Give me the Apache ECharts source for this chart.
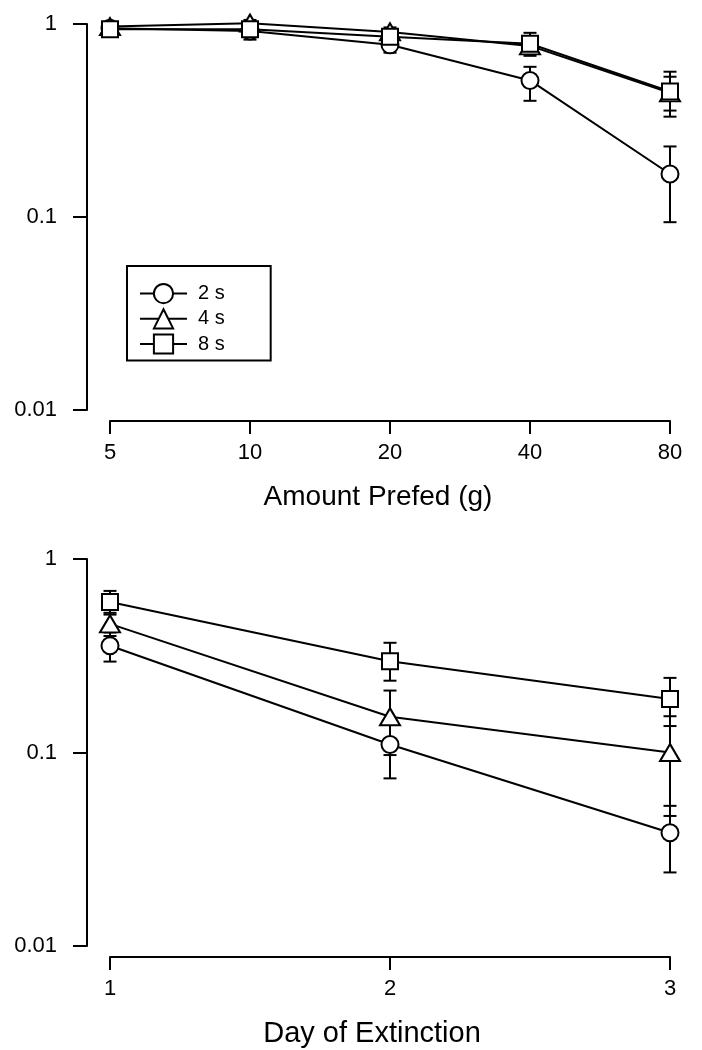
<!DOCTYPE html>
<html>
<head>
<meta charset="utf-8">
<script src="https://cdn.jsdelivr.net/npm/echarts@6/dist/echarts.min.js"></script>
<style>
  html, body { margin: 0; padding: 0; background: #fff; }
  #chart { width: 702px; height: 1050px; }
</style>
</head>
<body>
<div id="chart"></div>
<script>
// ---- Data (top panel: Amount Prefed) ----
const prefedCats = ['5', '10', '20', '40', '80'];
const top2sMean = [0.95, 0.92, 0.78, 0.51, 0.167];
const top2sLow  = [0.92, 0.83, 0.71, 0.40, 0.094];
const top2sHigh = [0.98, 1.01, 0.85, 0.60, 0.232];
const top4sMean = [0.97, 1.01, 0.91, 0.77, 0.44];
const top4sLow  = [0.94, 0.97, 0.86, 0.71, 0.356];
const top4sHigh = [1.00, 1.05, 0.96, 0.83, 0.533];
const top8sMean = [0.94, 0.94, 0.86, 0.79, 0.447];
const top8sLow  = [0.91, 0.90, 0.81, 0.684, 0.331];
const top8sHigh = [0.97, 0.98, 0.91, 0.90, 0.566];

// ---- Data (bottom panel: Day of Extinction) ----
const dayCats = ['1', '2', '3'];
const bot2sMean = [0.356, 0.110, 0.0385];
const bot2sLow  = [0.295, 0.0735, 0.024];
const bot2sHigh = [0.417, 0.147, 0.053];
const bot4sMean = [0.462, 0.153, 0.100];
const bot4sLow  = [0.40, 0.097, 0.047];
const bot4sHigh = [0.527, 0.209, 0.154];
const bot8sMean = [0.60, 0.296, 0.189];
const bot8sLow  = [0.516, 0.235, 0.137];
const bot8sHigh = [0.684, 0.369, 0.243];

const seriesNames = ['2 s', '4 s', '8 s'];

const FONT = "'Liberation Sans', Arial, Helvetica, sans-serif";
const symbols = ['circle', 'triangle', 'rect'];
const symbolSizes = [17, [20, 17], 16];

function errData(low, high) {
  return low.map((l, i) => [i, l, high[i]]);
}

function errSeries(low, high, gridIdx) {
  return {
    type: 'custom',
    xAxisIndex: gridIdx,
    yAxisIndex: gridIdx,
    z: 1,
    clip: false,
    silent: true,
    data: errData(low, high),
    encode: { x: 0, y: [1, 2] },
    renderItem: function (params, api) {
      const x = api.value(0);
      const pLo = api.coord([x, api.value(1)]);
      const pHi = api.coord([x, api.value(2)]);
      const hw = 6.5;
      const st = { stroke: '#000', lineWidth: 2, fill: null };
      return {
        type: 'group',
        children: [
          { type: 'line', shape: { x1: pLo[0], y1: pLo[1], x2: pHi[0], y2: pHi[1] }, style: st },
          { type: 'line', shape: { x1: pLo[0] - hw, y1: pLo[1], x2: pLo[0] + hw, y2: pLo[1] }, style: st },
          { type: 'line', shape: { x1: pHi[0] - hw, y1: pHi[1], x2: pHi[0] + hw, y2: pHi[1] }, style: st }
        ]
      };
    }
  };
}

function lineSeries(name, idx, data, gridIdx) {
  return {
    name: name,
    type: 'line',
    xAxisIndex: gridIdx,
    yAxisIndex: gridIdx,
    data: data,
    z: 3 + idx,
    clip: false,
    symbol: symbols[idx],
    symbolSize: symbolSizes[idx],
    showAllSymbol: true,
    lineStyle: { color: '#000', width: 2 },
    itemStyle: { color: '#fff', borderColor: '#000', borderWidth: 2 },
    emphasis: { disabled: true },
    animation: false
  };
}

function yAxisCfg(gridIdx) {
  return {
    type: 'log',
    logBase: 10,
    gridIndex: gridIdx,
    min: 0.01,
    max: 1,
    interval: 1,
    offset: 23,
    axisLine: { show: true, lineStyle: { color: '#000', width: 2 } },
    axisTick: { show: true, length: 14, lineStyle: { color: '#000', width: 2 } },
    axisLabel: {
      color: '#000', fontSize: 22, fontFamily: FONT, margin: 30,
      formatter: function (v) {
        return parseFloat(Number(v).toPrecision(3)).toString();
      }
    },
    splitLine: { show: false },
    minorTick: { show: false }
  };
}

function xAxisCfg(gridIdx, cats, name, nameSize, shiftLeft) {
  return {
    type: 'category',
    gridIndex: gridIdx,
    data: cats,
    boundaryGap: false,
    offset: 11,
    name: name,
    nameLocation: 'middle',
    nameGap: 62,
    nameTextStyle: { color: '#000', fontSize: nameSize, fontFamily: FONT, padding: [0, shiftLeft * 2, 0, 0] },
    axisLine: { show: true, lineStyle: { color: '#000', width: 2 } },
    axisTick: { show: true, length: 13, alignWithLabel: true, lineStyle: { color: '#000', width: 2 } },
    axisLabel: { color: '#000', fontSize: 22, fontFamily: FONT, margin: 21, interval: 0 },
    splitLine: { show: false }
  };
}

const chart = echarts.init(document.getElementById('chart'), null, { renderer: 'canvas' });

const option = {
  animation: false,
  backgroundColor: '#fff',
  textStyle: { fontFamily: FONT },
  grid: [
    { left: 110, right: 32, top: 24, height: 386 },
    { left: 110, right: 32, top: 559, height: 387 }
  ],
  xAxis: [
    xAxisCfg(0, prefedCats, 'Amount Prefed (g)', 28, 12),
    xAxisCfg(1, dayCats, 'Day of Extinction', 29, 18)
  ],
  yAxis: [yAxisCfg(0), yAxisCfg(1)],
  legend: {
    data: seriesNames,
    orient: 'vertical',
    left: 127,
    top: 266,
    padding: [17, 46, 6, 12],
    itemGap: 4,
    itemWidth: 47,
    itemHeight: 24,
    borderColor: '#000',
    borderWidth: 2,
    selectedMode: false,
    textStyle: { color: '#000', fontSize: 20, fontFamily: FONT, padding: [0, 0, 0, 6] }
  },
  series: [
    errSeries(top2sLow, top2sHigh, 0),
    errSeries(top4sLow, top4sHigh, 0),
    errSeries(top8sLow, top8sHigh, 0),
    lineSeries('2 s', 0, top2sMean, 0),
    lineSeries('4 s', 1, top4sMean, 0),
    lineSeries('8 s', 2, top8sMean, 0),
    errSeries(bot2sLow, bot2sHigh, 1),
    errSeries(bot4sLow, bot4sHigh, 1),
    errSeries(bot8sLow, bot8sHigh, 1),
    lineSeries('2 s', 0, bot2sMean, 1),
    lineSeries('4 s', 1, bot4sMean, 1),
    lineSeries('8 s', 2, bot8sMean, 1)
  ]
};

chart.setOption(option);
</script>
</body>
</html>
